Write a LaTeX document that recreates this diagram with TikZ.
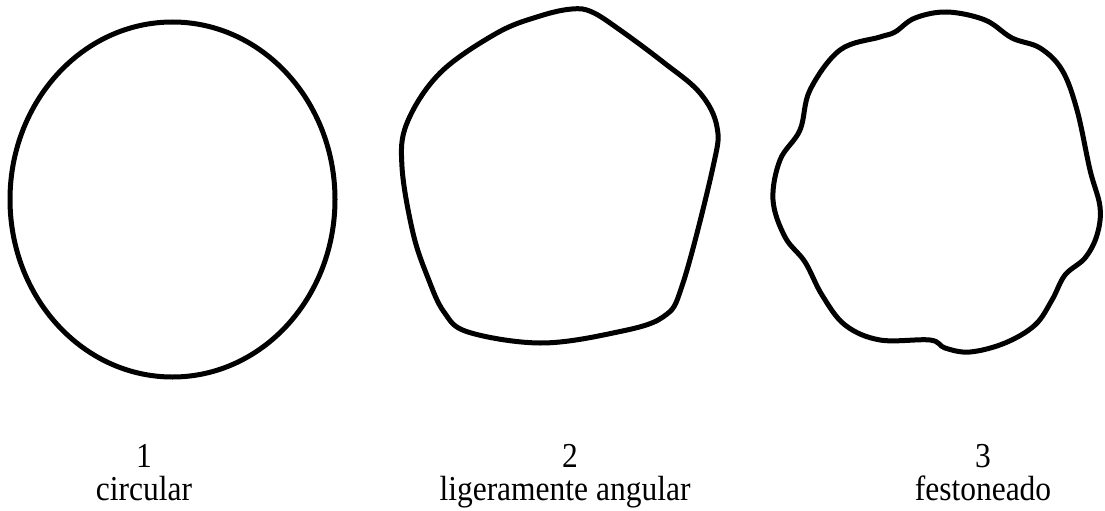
\documentclass[tikz,border=0pt]{standalone}
\usepackage{fontspec}
\setmainfont[FakeStretch=0.9]{Liberation Serif}
\usetikzlibrary{positioning}
\tikzset{outline/.style={line width=5pt,line join=round},
  lbl/.style={font=\fontsize{35}{40}\selectfont,anchor=base,inner sep=0pt}}
\begin{document}
\begin{tikzpicture}[x=1pt,y=-1pt]
\useasboundingbox (0,0) rectangle (1105,511);
% circular
\draw[outline] (172.5,199.5) ellipse[x radius=162.5,y radius=177.5];
% ligeramente angular
\draw[outline] plot[smooth cycle,tension=0.6] coordinates{(540,16)(572,9)(592,12)(620,30)(663,62)(700,93)(717,127)(713,167)(683,283)(663,317)(613,333)(540,343)(468,332)(444,312)(428,278)(413,233)(402,167)(407,123)(440,73)(497,33)};
% festoneado
\draw[outline] plot[smooth cycle,tension=0.6] coordinates{(947,12)(985,20)(1012,38)(1040,48)(1062,70)(1077,110)(1090,170)(1100,207)(1097,235)(1085,258)(1065,275)(1052,300)(1035,325)(1005,343)(970,352)(945,348)(930,340)(880,340)(845,325)(822,295)(805,262)(785,237)(773,200)(780,160)(800,130)(810,90)(840,50)(880,37)(895,32)(915,18)};
\node[lbl] (n1) at (144,467) {1};\node[lbl] (t1) at (144,500) {circular};
\node[lbl] (n2) at (570,467) {2};\node[lbl] (t2) at (565,500) {ligeramente angular};
\node[lbl] (n3) at (983,467) {3};\node[lbl] (t3) at (983,500) {festoneado};
\end{tikzpicture}
\end{document}
